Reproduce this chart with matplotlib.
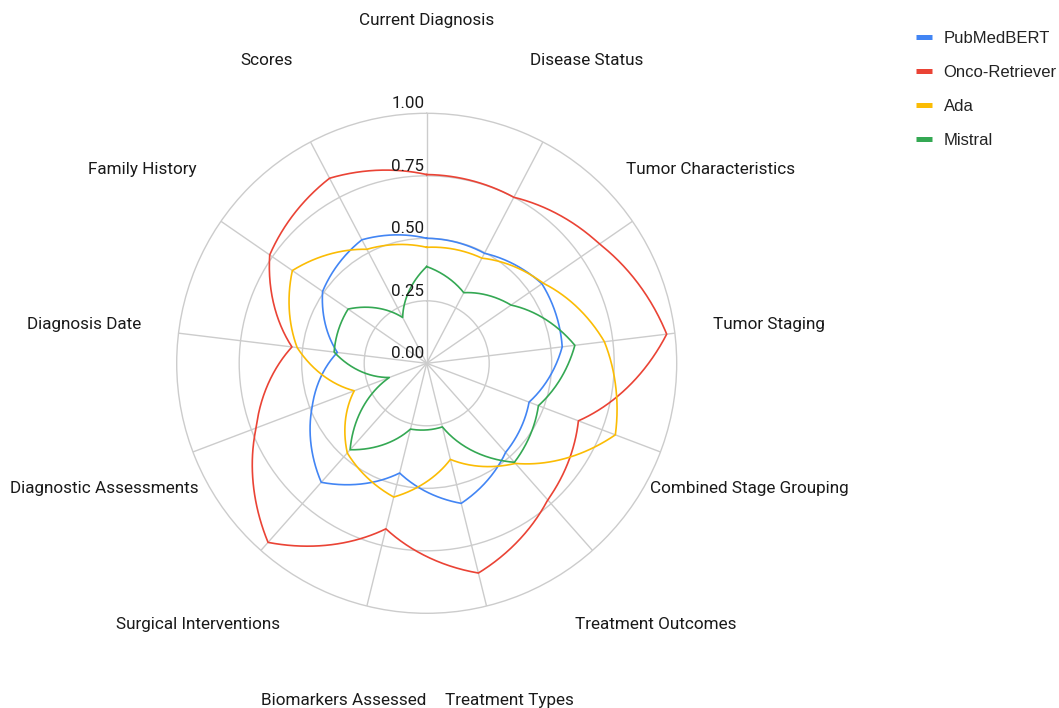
import numpy as np
import matplotlib
matplotlib.use("Agg")
import matplotlib.pyplot as plt
from matplotlib.transforms import offset_copy

categories = ["Current Diagnosis", "Disease Status", "Tumor Characteristics", "Tumor Staging",
              "Combined Stage Grouping", "Treatment Outcomes", "Treatment Types",
              "Biomarkers Assessed", "Surgical Interventions", "Diagnostic Assessments",
              "Diagnosis Date", "Family History", "Scores"]

pubmedbert = [0.50, 0.497, 0.56, 0.546, 0.438, 0.476, 0.577, 0.452, 0.636, 0.49, 0.36, 0.506, 0.558]
onco_retriever = [0.755, 0.75, 0.84, 0.967, 0.649, 0.73, 0.864, 0.682, 0.957, 0.73, 0.543, 0.763, 0.836]
ada = [0.464, 0.475, 0.565, 0.716, 0.807, 0.535, 0.396, 0.551, 0.479, 0.31, 0.522, 0.653, 0.515]
mistral = [0.387, 0.319, 0.41, 0.597, 0.478, 0.529, 0.262, 0.271, 0.462, 0.16, 0.373, 0.382, 0.207]

series_names = ["PubMedBERT", "Onco-Retriever", "Ada", "Mistral"]
series_values = [pubmedbert, onco_retriever, ada, mistral]
colors = ["#4285F4", "#EA4335", "#FBBC04", "#34A853"]
r_ticks = [0.0, 0.25, 0.5, 0.75, 1.0]
r_tick_labels = ["0.00", "0.25", "0.50", "0.75", "1.00"]

W, H = 1059, 708
fig = plt.figure(figsize=(W / 100, H / 100), dpi=100)
cx, cy, R = 426.7, 363.3, 250.0
ax = fig.add_axes([(cx - R) / W, (H - cy - R) / H, 2 * R / W, 2 * R / H], projection="polar")

n = len(categories)
angles = np.linspace(0, 2 * np.pi, n, endpoint=False)
ax.set_theta_zero_location("N")
ax.set_theta_direction(-1)
ax.set_ylim(0, 1.0)

grid_color = "#cccccc"
ax.set_xticks(angles)
ax.set_xticklabels([])
ax.set_yticks(r_ticks[1:-1])
ax.set_yticklabels([])
ax.grid(True, color=grid_color, linewidth=1.0)
ax.spines["polar"].set_color(grid_color)
ax.spines["polar"].set_linewidth(1.0)
ax.tick_params(length=0)

handles = []
for name, vals, col in zip(series_names, series_values, colors):
    th = np.append(angles, 2 * np.pi)
    rv = np.append(vals, vals[0])
    ln, = ax.plot(th, rv, color=col, linewidth=1.2, label=name, zorder=3)
    # draw segments as polar arcs (r linear in theta), like the reference
    ln.get_path()._interpolation_steps = 60
    handles.append(ln)

# radial tick labels
tr = offset_copy(ax.transData, fig=fig, x=-2.5, y=2.0, units="dots")
for v, lab in zip(r_ticks, r_tick_labels):
    ax.text(0, v, lab, transform=tr, ha="right", va="bottom", fontsize=12.2,
            family="Roboto", color="#1a1a1a", zorder=5)

# category labels
tc = offset_copy(ax.transData, fig=fig, x=0, y=-2.5, units="dots")
for a, lab in zip(angles, categories):
    ax.text(a, 1.38, lab, transform=tc, ha="center", va="center", fontsize=12.3,
            family="Roboto", color="#1a1a1a", clip_on=False)

leg = fig.legend(handles=handles, loc="upper left",
                 bbox_to_anchor=(900.5 / W, 1 - 16 / H), frameon=False,
                 prop={"family": "Liberation Sans", "size": 12},
                 handlelength=1.0, handletextpad=0.68, labelspacing=1.14)
for lh in leg.legend_handles:
    lh.set_linewidth(3.6)
    lh.set_solid_capstyle("butt")
for t in leg.get_texts():
    t.set_color("#222222")

fig.savefig("out.png", dpi=100)
